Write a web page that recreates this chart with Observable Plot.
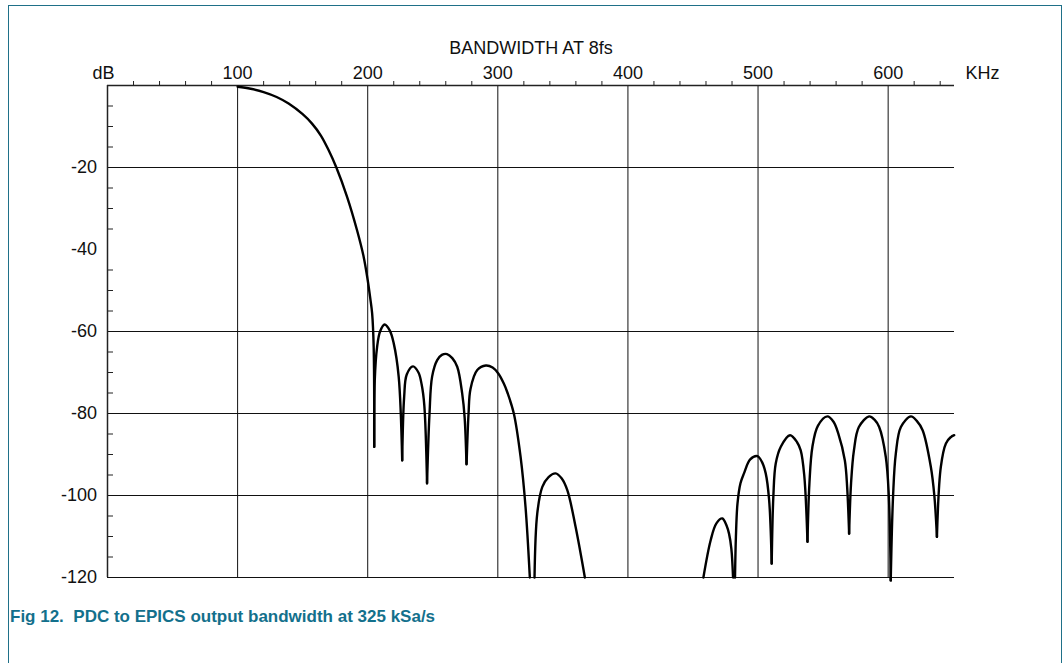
<!DOCTYPE html>
<html><head><meta charset="utf-8">
<script src="https://cdn.jsdelivr.net/npm/d3@7"></script>
<script src="https://cdn.jsdelivr.net/npm/@observablehq/plot@0.6"></script>
<style>
html,body{margin:0;padding:0;background:#fff;}
#wrap{position:relative;width:1063px;height:663px;overflow:hidden;font-family:"Liberation Sans",Arial,Helvetica,sans-serif;}
#frame{position:absolute;left:8px;top:5px;width:1054px;height:720px;border:1.3px solid #1f7088;box-sizing:border-box;}
#chart{position:absolute;left:0;top:0;}
#caption{position:absolute;left:10px;top:607px;font-weight:bold;font-size:17px;color:#13708c;white-space:pre;}
</style></head><body>
<div id="wrap"><div id="frame"></div><div id="chart"></div><div id="caption">Fig 12.  PDC to EPICS output bandwidth at 325 kSa/s</div></div>
<script>
// Response curve, lobe by lobe (kHz, dB)
const lobeId = [
  0,0,0,0,0,0,0,0,0,0,0,0,0,0,0,0,0,0,
  1,1,1,1,1,1,1,1,1,
  2,2,2,2,2,2,2,2,
  3,3,3,3,3,3,3,3,3,3,3,
  4,4,4,4,4,4,4,4,4,4,4,4,4,
  5,5,5,5,5,5,5,5,5,
  6,6,6,6,6,6,6,6,
  7,7,7,7,7,7,7,7,7,7,7,
  8,8,8,8,8,8,8,8,8,
  9,9,9,9,9,9,9,9,9,9,
  10,10,10,10,10,10,10,10,10,10,
  11,11,11,11,11,11,11,11,11,11,
  12,12,12,12,12
];
const freqKHz = [
  100,110,120,130,139.2,150,157.2,164,170,175.9,184.2,191.8,196.9,200,202,203.4,204.6,205,
  205,205.4,207.2,209.5,213,217,220,223.8,226.5,
  226.5,228,230,234.8,239,241.5,243.5,245.6,
  245.6,247.5,249.5,253.4,257,261,265,268.8,272.6,274.5,275.9,
  276,277.5,279,284.2,290.8,296,300.5,304.6,307.5,312.3,317.5,321.3,324.6,
  328.2,330.3,334.2,339,344.4,349,353.4,359.8,366.9,
  458,463.6,468,472.6,476,477.7,479.5,480.8,
  482.3,483,484.2,486.5,489.2,494,499.5,503,505.9,508.5,510.5,
  510.5,511.8,513.6,517.5,524.6,530,532.8,535.5,538,
  538,539.5,541.8,546,553.3,558,561.7,566.7,568.5,570,
  570,571.5,573.7,577.5,585.4,589.5,593.1,598.2,600.5,602,
  602,603.8,605.9,609.8,617.5,622,626.5,632.8,635.5,637.5,
  637.5,640.5,644.4,648,650.8
];
const levelDb = [
  -0.3,-0.8,-1.6,-2.8,-4.4,-7.0,-9.3,-12.2,-15.8,-20,-27.2,-35.3,-41.8,-47.5,-52,-55.6,-64,-88.1,
  -88.1,-72,-63.8,-60,-58.3,-59.8,-62.9,-71,-91.4,
  -91.4,-76,-70.5,-68.5,-70,-73,-78,-97,
  -97,-80,-71,-67,-65.7,-65.5,-66.5,-68.6,-75.1,-81,-92.4,
  -92.3,-80,-74,-69.4,-68.3,-68.8,-70.3,-72.7,-75,-80,-90.6,-102.8,-120,
  -120,-104.4,-97.9,-95.5,-94.6,-95.8,-98.7,-107.7,-120,
  -120,-110.9,-106.8,-105.6,-107.5,-109.3,-113,-120,
  -120,-110,-102,-97,-94.6,-91.2,-90.4,-91.8,-94.6,-101,-116.6,
  -116.6,-100,-92.2,-88.1,-85.3,-87,-89,-95,-111.3,
  -111.3,-97,-88.1,-83,-80.7,-82,-84.9,-91.4,-98,-109.3,
  -109.3,-97,-89,-83.3,-80.7,-81.5,-83.3,-90.6,-100,-120.7,
  -120.7,-100,-89.8,-83.3,-80.7,-81.8,-84.1,-93,-100,-110.1,
  -110.1,-93,-87.3,-85.8,-85.3
];

// Axis / grid values
const xDomain = [0, 651];
const yDomain = [-120, 0];
const xLabelTicks = [100, 200, 300, 400, 500, 600];
const xMinorTicks = [20,40,60,80,120,140,160,180,220,240,260,280,320,340,360,380,420,440,460,480,520,540,560,580,620,640];
const yLabelTicks = [-20, -40, -60, -80, -100, -120];
const yGridLines = [-20, -60, -80, -100, -120];
const yMinorTicks = [-5,-10,-15,-25,-30,-35,-45,-50,-55,-65,-70,-75,-85,-90,-95,-105,-110,-115];
const titleText = "BANDWIDTH AT 8fs";
const yUnit = "dB";
const xUnit = "KHz";

const points = freqKHz.map((f, i) => ({f, db: levelDb[i], lobe: lobeId[i]}));

const FONT = "'Liberation Sans', Arial, Helvetica, sans-serif";
const FS = 18;
const ink = "#111";

const chart = Plot.plot({
  width: 1063,
  height: 600,
  marginLeft: 107,
  marginRight: 109,
  marginTop: 85,
  marginBottom: 23,
  style: {fontFamily: FONT, fontSize: FS + "px", background: "transparent", color: ink},
  x: {domain: xDomain, axis: null},
  y: {domain: yDomain, axis: null},
  marks: [
    Plot.ruleX(xLabelTicks, {stroke: ink, strokeWidth: 1}),
    Plot.ruleY(yGridLines, {stroke: ink, strokeWidth: 1}),
    Plot.ruleY([0], {stroke: "#222", strokeWidth: 1.3}),
    Plot.ruleX([0], {stroke: "#222", strokeWidth: 1.5}),
    Plot.axisX(xMinorTicks, {anchor: "top", tickSize: 5, tickFormat: () => "", stroke: "#222", label: null}),
    Plot.axisX(xLabelTicks, {anchor: "top", tickSize: 0, tickPadding: 7, tickFormat: d => String(d), fontSize: FS, label: null, fill: ink}),
    Plot.axisY(yMinorTicks, {anchor: "left", tickSize: -6, tickFormat: () => "", stroke: "#222", label: null}),
    Plot.axisY(yLabelTicks, {anchor: "left", tickSize: 0, tickPadding: 10.5, tickFormat: d => String(d), fontSize: FS, label: null, fill: ink}),
    Plot.text([yUnit], {text: d => d, frameAnchor: "top-left", dx: -4, dy: -7, lineAnchor: "bottom", textAnchor: "middle", fontSize: FS, fill: ink}),
    Plot.text([xUnit], {text: d => d, frameAnchor: "top-right", dx: 28, dy: -7, lineAnchor: "bottom", textAnchor: "middle", fontSize: FS, fill: ink}),
    Plot.text([titleText], {text: d => d, frameAnchor: "top", dy: -32, lineAnchor: "bottom", textAnchor: "middle", fontSize: FS, fill: ink}),
    Plot.line(points, {x: "f", y: "db", z: "lobe", curve: "catmull-rom", stroke: "#000", strokeWidth: 2.4, strokeLinejoin: "miter"})
  ]
});
document.getElementById("chart").appendChild(chart);
</script>
</body></html>
